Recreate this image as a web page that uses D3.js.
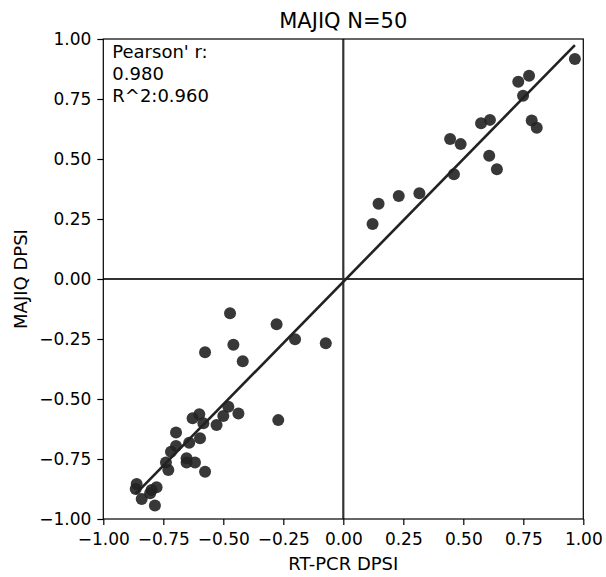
<!DOCTYPE html>
<html>
<head>
<meta charset="utf-8">
<script src="https://cdn.jsdelivr.net/npm/d3@7"></script>
<style>
  body { margin: 0; background: #fff; }
  text { font-family: "DejaVu Sans", Verdana, sans-serif; fill: #000; }
</style>
</head>
<body>
<div id="container"></div>
<script>
// RT-PCR dPSI (x) vs MAJIQ dPSI (y)
const rtpcr = [
  0.965, 0.774, 0.729, 0.749, 0.785, 0.806, 0.574, 0.611, 0.445, 0.489,
  0.608, 0.640, 0.461, 0.317, 0.231, 0.147, 0.122,
  -0.472, -0.278, -0.201, -0.073, -0.576, -0.458, -0.419, -0.479, -0.500, -0.437,
  -0.528, -0.271, -0.628, -0.600, -0.583, -0.697, -0.597, -0.642, -0.697, -0.718,
  -0.739, -0.729, -0.653, -0.653, -0.618, -0.576, -0.861, -0.865, -0.778, -0.799,
  -0.805, -0.840, -0.785
];
const majiq = [
  0.917, 0.847, 0.822, 0.764, 0.660, 0.630, 0.649, 0.663, 0.583, 0.562,
  0.514, 0.457, 0.436, 0.357, 0.346, 0.314, 0.229,
  -0.143, -0.189, -0.251, -0.268, -0.305, -0.274, -0.343, -0.532, -0.571, -0.560,
  -0.608, -0.588, -0.580, -0.564, -0.601, -0.640, -0.664, -0.682, -0.696, -0.720,
  -0.765, -0.796, -0.747, -0.765, -0.765, -0.803, -0.854, -0.875, -0.868, -0.879,
  -0.893, -0.917, -0.944
];
const tickValues = [-1, -0.75, -0.5, -0.25, 0, 0.25, 0.5, 0.75, 1];
const titleText = "MAJIQ N=50";
const statLines = ["Pearson' r:", "0.980", "R^2:0.960"];

const width = 606, height = 577;
const margin = {top: 39, right: 22.7, bottom: 58, left: 103.3};
const w = width - margin.left - margin.right, h = height - margin.top - margin.bottom;

const data = rtpcr.map((x, i) => ({x: x, y: majiq[i]}));

const svg = d3.select("#container")
  .append("svg")
    .attr("width", width)
    .attr("height", height);
const g = svg.append("g")
    .attr("transform", "translate(" + margin.left + "," + margin.top + ")");

const x = d3.scaleLinear().domain([-1, 1]).range([0, w]);
const y = d3.scaleLinear().domain([-1, 1]).range([h, 0]);

// zero lines
g.append("line")
  .attr("x1", x(0)).attr("x2", x(0)).attr("y1", 0).attr("y2", h)
  .attr("stroke", "#333").attr("stroke-width", 2.2);
g.append("line")
  .attr("x1", 0).attr("x2", w).attr("y1", y(0)).attr("y2", y(0))
  .attr("stroke", "#333").attr("stroke-width", 2.2);

// least squares fit
const mx = d3.mean(rtpcr), my = d3.mean(majiq);
const slope = d3.sum(data, d => (d.x - mx) * (d.y - my)) / d3.sum(data, d => (d.x - mx) * (d.x - mx));
const icpt = my - slope * mx;
const [x0, x1] = d3.extent(rtpcr);

g.append("g")
  .attr("fill", "#222")
  .attr("fill-opacity", 0.9)
  .selectAll("circle")
  .data(data)
  .join("circle")
    .attr("cx", d => x(d.x))
    .attr("cy", d => y(d.y))
    .attr("r", 6);

g.append("line")
  .attr("x1", x(x0)).attr("y1", y(icpt + slope * x0))
  .attr("x2", x(x1)).attr("y2", y(icpt + slope * x1))
  .attr("stroke", "#222").attr("stroke-width", 2.6);

// frame
g.append("rect")
  .attr("width", w).attr("height", h)
  .attr("fill", "none").attr("stroke", "#000").attr("stroke-width", 1.2);

const fmt = d3.format(".2f");
const xAxis = g.append("g")
  .attr("transform", "translate(0," + h + ")")
  .call(d3.axisBottom(x).tickValues(tickValues).tickFormat(fmt).tickSize(6).tickPadding(8));
const yAxis = g.append("g")
  .call(d3.axisLeft(y).tickValues(tickValues).tickFormat(fmt).tickSize(6).tickPadding(6));
[xAxis, yAxis].forEach(a => {
  a.select(".domain").remove();
  a.selectAll("line").attr("stroke", "#000").attr("stroke-width", 1.2);
  a.selectAll("text").style("font-size", "17px").attr("fill", "#000");
});

svg.append("text")
  .attr("x", margin.left + w / 2).attr("y", 28)
  .attr("text-anchor", "middle")
  .style("font-size", "21px")
  .text(titleText);

svg.append("text")
  .attr("x", margin.left + w / 2).attr("y", 570)
  .attr("text-anchor", "middle")
  .style("font-size", "18px")
  .text("RT-PCR DPSI");

svg.append("text")
  .attr("transform", "translate(27," + (margin.top + h / 2) + ") rotate(-90)")
  .attr("text-anchor", "middle")
  .style("font-size", "18px")
  .text("MAJIQ DPSI");

svg.append("g")
  .selectAll("text")
  .data(statLines)
  .join("text")
    .attr("x", margin.left + 9)
    .attr("y", (d, i) => 58.3 + i * 21.7)
    .style("font-size", "18px")
    .text(d => d);
</script>
</body>
</html>
